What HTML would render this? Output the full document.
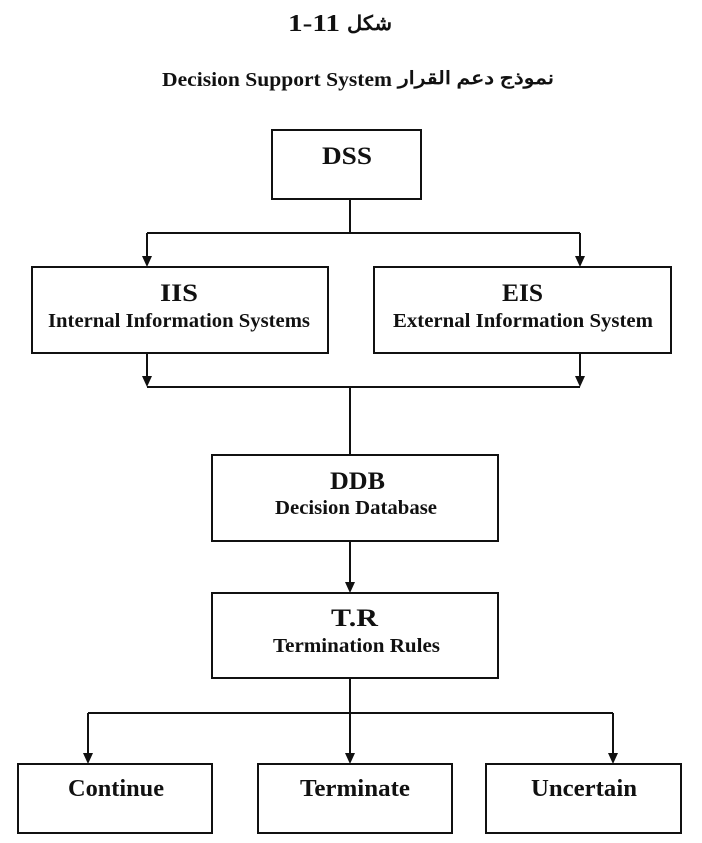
<!DOCTYPE html>
<html><head><meta charset="utf-8"><style>
body{margin:0;background:#fff;}
svg{display:block}
text{font-family:"Liberation Serif","Noto Serif CJK SC",serif;font-weight:bold;fill:#111}
</style></head><body>
<svg width="702" height="843" viewBox="0 0 702 843" xmlns="http://www.w3.org/2000/svg">
<text x="288" y="31" font-size="24" textLength="52" lengthAdjust="spacingAndGlyphs">1-11</text>
<text x="347" y="30" font-size="20" font-family="DejaVu Sans" textLength="45" lengthAdjust="spacingAndGlyphs">شكل</text>
<text x="162" y="86" font-size="20" textLength="230" lengthAdjust="spacingAndGlyphs">Decision Support System</text>
<text x="398" y="84" font-size="18" font-family="DejaVu Sans" textLength="156" lengthAdjust="spacingAndGlyphs">نموذج دعم القرار</text>
<g fill="none" stroke="#111" stroke-width="2">
<rect x="272" y="130" width="149" height="69"/>
<rect x="32" y="267" width="296" height="86"/>
<rect x="374" y="267" width="297" height="86"/>
<rect x="212" y="455" width="286" height="86"/>
<rect x="212" y="593" width="286" height="85"/>
<rect x="18" y="764" width="194" height="69"/>
<rect x="258" y="764" width="194" height="69"/>
<rect x="486" y="764" width="195" height="69"/>
<path d="M350 199V233M147 233H580M350 387V455M147 387H580M350 678V713M88 713H613"/>
<path d="M147 233V256M580 233V256M147 353V376M580 353V376M350 541V582M88 713V753M350 713V753M613 713V753"/>
</g>
<g fill="#111">
<path d="M142 256h10l-5 11z"/><path d="M575 256h10l-5 11z"/>
<path d="M142 376h10l-5 11z"/><path d="M575 376h10l-5 11z"/>
<path d="M345 582h10l-5 11z"/>
<path d="M83 753h10l-5 11z"/><path d="M345 753h10l-5 11z"/><path d="M608 753h10l-5 11z"/>
</g>
<text x="322" y="164" font-size="25" textLength="50" lengthAdjust="spacingAndGlyphs">DSS</text>
<text x="160" y="301" font-size="25" textLength="38" lengthAdjust="spacingAndGlyphs">IIS</text>
<text x="48" y="327" font-size="20" textLength="262" lengthAdjust="spacingAndGlyphs">Internal Information Systems</text>
<text x="502" y="301" font-size="25" textLength="41" lengthAdjust="spacingAndGlyphs">EIS</text>
<text x="393" y="327" font-size="20" textLength="260" lengthAdjust="spacingAndGlyphs">External Information System</text>
<text x="330" y="489" font-size="25" textLength="55" lengthAdjust="spacingAndGlyphs">DDB</text>
<text x="275" y="514" font-size="20" textLength="162" lengthAdjust="spacingAndGlyphs">Decision Database</text>
<text x="331" y="626" font-size="25" textLength="47" lengthAdjust="spacingAndGlyphs">T.R</text>
<text x="273" y="652" font-size="20" textLength="167" lengthAdjust="spacingAndGlyphs">Termination Rules</text>
<text x="68" y="796" font-size="24" textLength="96" lengthAdjust="spacingAndGlyphs">Continue</text>
<text x="300" y="796" font-size="24" textLength="110" lengthAdjust="spacingAndGlyphs">Terminate</text>
<text x="531" y="796" font-size="24" textLength="106" lengthAdjust="spacingAndGlyphs">Uncertain</text>
</svg>
</body></html>
